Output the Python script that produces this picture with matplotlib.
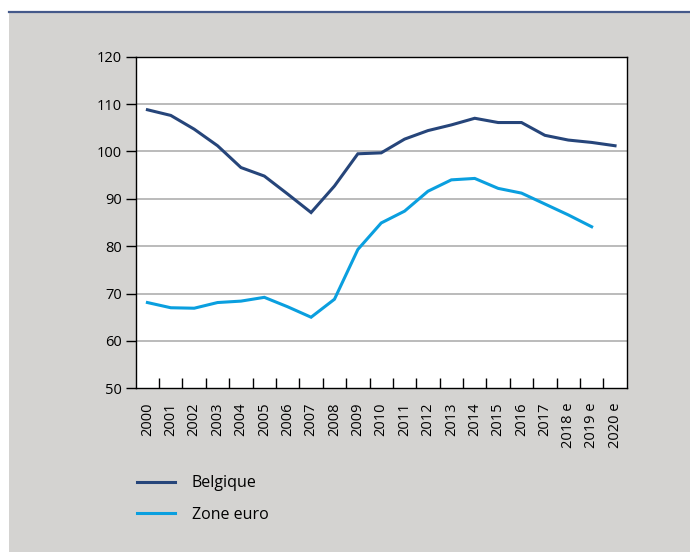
import numpy as np
import matplotlib.pyplot as plt
from matplotlib.lines import Line2D
from matplotlib.patches import Rectangle

plt.rcParams['font.family'] = ['Open Sans', 'DejaVu Sans']

years = ['2000', '2001', '2002', '2003', '2004', '2005', '2006', '2007', '2008',
         '2009', '2010', '2011', '2012', '2013', '2014', '2015', '2016', '2017',
         '2018 e', '2019 e', '2020 e']
belgique = [108.8, 107.6, 104.7, 101.2, 96.6, 94.8, 91.0, 87.1, 92.7, 99.5,
            99.7, 102.6, 104.4, 105.6, 107.0, 106.1, 106.1, 103.4, 102.4, 101.9, 101.2]
zone_euro = [68.1, 67.0, 66.9, 68.1, 68.4, 69.2, 67.2, 65.0, 68.8, 79.3,
             84.9, 87.4, 91.6, 94.0, 94.3, 92.2, 91.2, 88.9, 86.6, 84.1, np.nan]

col_be = '#26457a'
col_ze = '#0a9fdf'
bg = '#d4d3d1'

fig = plt.figure(figsize=(6.9, 5.52), dpi=100, facecolor='white')
# grey panel and top rule
fig.patches.append(Rectangle((9 / 690, 0), 1 - 9 / 690, 1 - 13 / 552,
                             transform=fig.transFigure, facecolor=bg,
                             edgecolor='none', zorder=-5))
fig.lines.append(Line2D([9 / 690, 1], [1 - 12 / 552, 1 - 12 / 552],
                        transform=fig.transFigure, color='#44598a', lw=1.6, zorder=-4))

ax = fig.add_axes([0.1967, 0.2966, 0.7116, 0.6007])
ax.set_zorder(2)
ax.set_facecolor('white')

x = np.arange(len(years))
ax.plot(x, belgique, color=col_be, lw=2.2, label='Belgique', solid_joinstyle='miter')
ax.plot(x, zone_euro, color=col_ze, lw=2.2, label='Zone euro', solid_joinstyle='miter')

ax.set_xlim(-0.5, len(years) - 0.5)
ax.set_ylim(50, 120)
ax.set_yticks(range(50, 121, 10))
for v in range(60, 120, 10):
    ax.axhline(v, color='#a8a8a8', lw=1.1, zorder=0)

ax.set_xticks(x)
ax.set_xticklabels(years, rotation=90, va='top', ha='center')
ax.set_xticks(np.arange(0.5, len(years) - 1, 1), minor=True)
ax.tick_params(axis='x', which='major', length=0, pad=10, labelsize=10.5)
ax.tick_params(axis='x', which='minor', direction='in', length=7.5, width=1)
ax.tick_params(axis='y', direction='out', length=7.5, width=1, pad=2.5, labelsize=10.5)

for s in ax.spines.values():
    s.set_linewidth(1)
    s.set_color('black')

leg = fig.legend(loc='upper left', bbox_to_anchor=(0.198, 0.139), frameon=False,
                 fontsize=11.5, handlelength=2.4, handletextpad=1.05, labelspacing=0.98,
                 borderpad=0, borderaxespad=0)
leg.set_zorder(3)

fig.savefig('out.png', dpi=100, facecolor=fig.get_facecolor())
